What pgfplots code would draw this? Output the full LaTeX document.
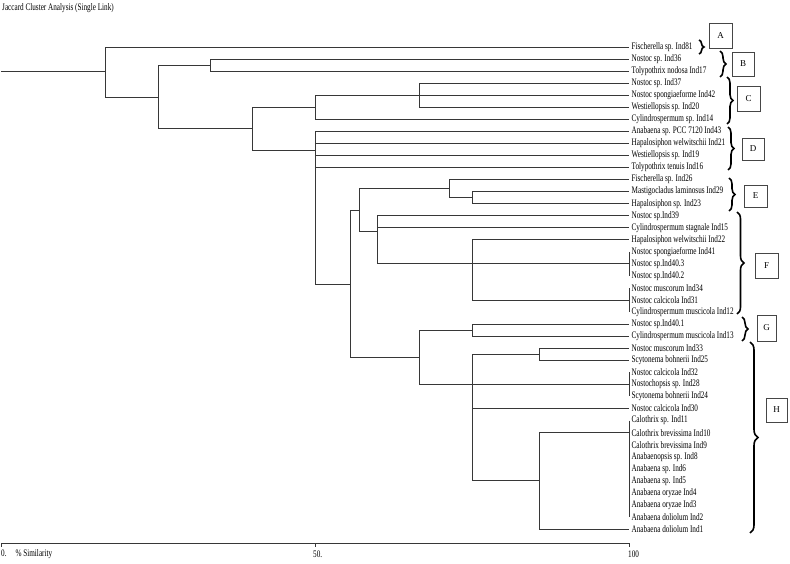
\documentclass[border=0pt]{standalone}
\usepackage{pgfplots}
\pgfplotsset{compat=1.18}
\usepackage{pgfplotstable}
\usepackage{fontspec}
\setmainfont{Liberation Serif}
\newfontfamily\lbl[FakeStretch=0.72]{Liberation Serif}
\usetikzlibrary{decorations.pathreplacing}
\definecolor{ln}{RGB}{55,55,55}

% dendrogram segments: x = % similarity, y = leaf position (nan = break)
\pgfplotstableread{
x y
0 3.07
16.7 3.07
nan nan
100 1
16.7 1
16.7 5.15
25 5.15
nan nan
33.3 2.5
25 2.5
25 7.8
40 7.8
nan nan
100 2
33.3 2
33.3 3
100 3
nan nan
50 6
40 6
40 9.6
50 9.6
nan nan
66.7 5
50 5
50 7
100 7
nan nan
100 4
66.7 4
66.7 6
100 6
nan nan
66.7 5
100 5
nan nan
100 8
50 8
50 20.7
55.6 20.7
nan nan
50 9
100 9
nan nan
50 10
100 10
nan nan
50 11
100 11
nan nan
57.1 14.55
55.6 14.55
55.6 26.75
66.7 26.75
nan nan
71.4 12.75
57.1 12.75
57.1 16.3
60 16.3
nan nan
100 12
71.4 12
71.4 13.5
75 13.5
nan nan
100 13
75 13
75 14
100 14
nan nan
100 15
60 15
60 19
75 19
nan nan
60 16
100 16
nan nan
100 17
75 17
75 22
100 22
nan nan
75 19
100 19
nan nan
100 18
100 20
nan nan
100 21
100 23
nan nan
75 24.5
66.7 24.5
66.7 29
75 29
nan nan
100 24
75 24
75 25
100 25
nan nan
85.7 26.5
75 26.5
75 37
85.7 37
nan nan
75 29
100 29
nan nan
100 28
100 30
nan nan
75 31
100 31
nan nan
100 26
85.7 26
85.7 27
100 27
nan nan
100 33
85.7 33
85.7 41
100 41
nan nan
100 32
100 40
}\segs

\pgfplotstableread[col sep=comma]{
x,y,name
100,1,Fischerella sp. Ind81
100,2,Nostoc sp. Ind36
100,3,Tolypothrix nodosa Ind17
100,4,Nostoc sp. Ind37
100,5,Nostoc spongiaeforme Ind42
100,6,Westiellopsis sp. Ind20
100,7,Cylindrospermum sp. Ind14
100,8,Anabaena sp. PCC 7120 Ind43
100,9,Hapalosiphon welwitschii Ind21
100,10,Westiellopsis sp. Ind19
100,11,Tolypothrix tenuis Ind16
100,12,Fischerella sp. Ind26
100,13,Mastigocladus laminosus Ind29
100,14,Hapalosiphon sp. Ind23
100,15,Nostoc sp.Ind39
100,16,Cylindrospermum stagnale Ind15
100,17,Hapalosiphon welwitschii Ind22
100,18,Nostoc spongiaeforme Ind41
100,19,Nostoc sp.Ind40.3
100,20,Nostoc sp.Ind40.2
100,21,Nostoc muscorum Ind34
100,22,Nostoc calcicola Ind31
100,23,Cylindrospermum muscicola Ind12
100,24,Nostoc sp.Ind40.1
100,25,Cylindrospermum muscicola Ind13
100,26,Nostoc muscorum Ind33
100,27,Scytonema bohnerii Ind25
100,28,Nostoc calcicola Ind32
100,29,Nostochopsis sp. Ind28
100,30,Scytonema bohnerii Ind24
100,31,Nostoc calcicola Ind30
100,32,Calothrix sp. Ind11
100,33,Calothrix brevissima Ind10
100,34,Calothrix brevissima Ind9
100,35,Anabaenopsis sp. Ind8
100,36,Anabaena sp. Ind6
100,37,Anabaena sp. Ind5
100,38,Anabaena oryzae Ind4
100,39,Anabaena oryzae Ind3
100,40,Anabaena doliolum Ind2
100,41,Anabaena doliolum Ind1
}\leaves

\begin{document}
\begin{tikzpicture}
\begin{axis}[at={(0pt,0pt)}, anchor=north west, scale only axis,
  width=790pt, height=564pt,
  xmin=-0.159, xmax=125.64, ymin=-2.9, ymax=43.905, y dir=reverse,
  axis lines=none, clip=false, unbounded coords=jump]
\addplot[ln, line width=0.9pt, mark=none] table[x=x,y=y]{\segs};
\addplot[draw=none, mark=none, nodes near coords, point meta=explicit symbolic,
  every node near coord/.style={anchor=west, inner sep=0pt, xshift=2.5pt,
    font=\lbl\fontsize{10}{10}\selectfont, text=black}]
  table[x=x, y=y, meta=name]{\leaves};
\end{axis}
\begin{scope}[x=1pt, y=-1pt]
% similarity scale (0 at x=1, 100 at x=629)
\draw[ln, line width=0.8pt] (1,543) -- (629,543);
\draw[ln, line width=0.8pt] (1,543) -- (1,547);
\draw[ln, line width=0.8pt] (315,543) -- (315,547);
\draw[ln, line width=0.8pt] (629,543) -- (629,547);
\node[anchor=west, inner sep=0pt, font=\lbl\fontsize{10}{10}\selectfont] at (1,554) {0.\hspace{9pt}\% Similarity};
\node[anchor=west, inner sep=0pt, font=\lbl\fontsize{10}{10}\selectfont] at (313,554) {50.};
\node[anchor=west, inner sep=0pt, font=\lbl\fontsize{10}{10}\selectfont] at (628,554) {100};
\node[anchor=west, inner sep=0pt, font=\lbl\fontsize{10}{10}\selectfont] at (2,8) {Jaccard Cluster Analysis (Single Link)};
\tikzset{br/.style={draw=black, line width=1.6pt, decorate, decoration={brace, amplitude=#1}},
  bx/.style={draw={rgb,255:red,70;green,70;blue,70}, line width=0.8pt},
  lt/.style={font=\fontsize{9}{9}\selectfont}}
\draw[br=5pt] (699,40) -- (699,54);
\draw[br=6pt] (720,51) -- (720,77);
\draw[br=6pt] (727,77) -- (727,124);
\draw[br=6pt] (728,127) -- (728,170);
\draw[br=6pt] (729,178) -- (729,211);
\draw[br=7pt] (737,212) -- (737,314);
\draw[br=6pt] (742,317) -- (742,341);
\draw[br=8pt] (750,342) -- (750,533);
\draw[bx] (709,23) rectangle (732,48); \node[lt] at (720.5,35.5) {A};
\draw[bx] (732,52) rectangle (754,76); \node[lt] at (743,64) {B};
\draw[bx] (737,86) rectangle (760,111); \node[lt] at (748.5,98.5) {C};
\draw[bx] (742,138) rectangle (764,160); \node[lt] at (753,149) {D};
\draw[bx] (744,185) rectangle (767,207); \node[lt] at (755.5,196) {E};
\draw[bx] (755,253) rectangle (778,278); \node[lt] at (766.5,265.5) {F};
\draw[bx] (757,315) rectangle (776,341); \node[lt] at (766.5,328) {G};
\draw[bx] (766,398) rectangle (787,422); \node[lt] at (776.5,410) {H};
\pgfresetboundingbox
\useasboundingbox (0,0) rectangle (790,564);
\end{scope}
\end{tikzpicture}
\end{document}
